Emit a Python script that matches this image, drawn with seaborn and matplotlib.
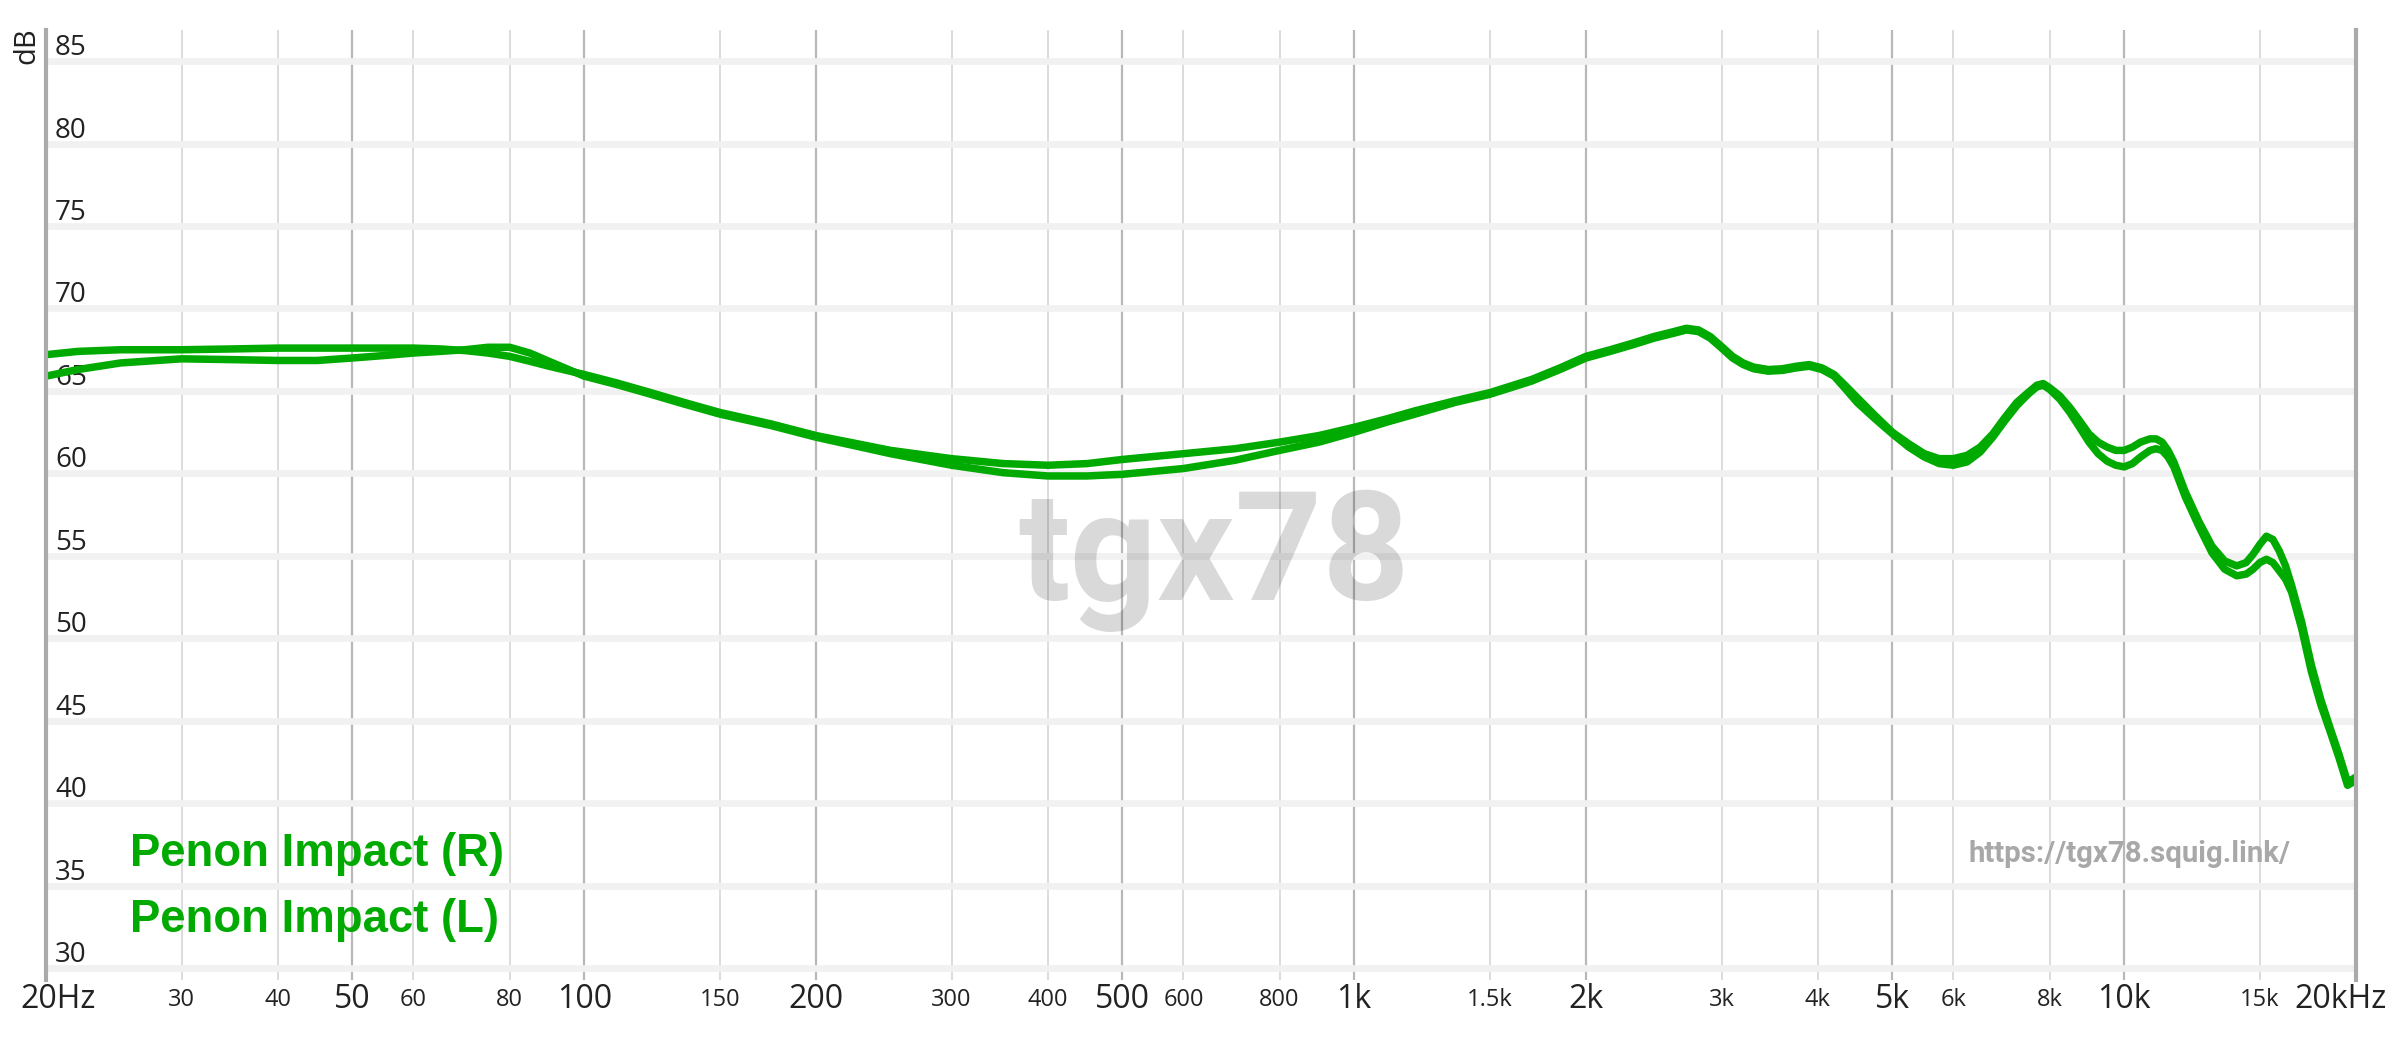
import matplotlib
matplotlib.use("Agg")
import matplotlib.pyplot as plt
import matplotlib.transforms as mtransforms
import pandas as pd
import seaborn as sns

freq_hz = [20, 22, 25, 30, 35, 40, 45, 50, 55, 60,
           65, 70, 75, 80, 85, 90, 100, 110, 120, 135,
           150, 175, 200, 250, 300, 350, 400, 450, 500, 600,
           700, 800, 900, 1000, 1100, 1200, 1350, 1500, 1700, 1850,
           2000, 2150, 2300, 2450, 2600, 2700, 2800, 2900, 3000, 3100,
           3200, 3300, 3450, 3600, 3750, 3900, 4050, 4200, 4350, 4500,
           4750, 5000, 5250, 5500, 5750, 6000, 6250, 6500, 6750, 7000,
           7250, 7500, 7700, 7850, 8000, 8250, 8500, 8750, 9000, 9250,
           9500, 9750, 10000, 10250, 10500, 10800, 11000, 11200, 11400, 11600,
           12000, 12500, 13000, 13500, 14000, 14400, 14700, 15000, 15300, 15600,
           15900, 16200, 16500, 17000, 17500, 18000, 18500, 19000, 19500, 20000]

spl_r = [67.2, 67.4, 67.5, 67.5, 67.55, 67.6, 67.6, 67.6, 67.6, 67.6,
         67.55, 67.45, 67.3, 67.1, 66.8, 66.5, 66.0, 65.5, 65.0, 64.3,
         63.7, 63.0, 62.3, 61.4, 60.9, 60.6, 60.5, 60.6, 60.85, 61.2,
         61.5, 61.9, 62.3, 62.8, 63.3, 63.8, 64.4, 64.9, 65.7, 66.4,
         67.1, 67.5, 67.9, 68.3, 68.6, 68.8, 68.7, 68.3, 67.7, 67.1,
         66.7, 66.45, 66.3, 66.35, 66.5, 66.6, 66.4, 66.0, 65.3, 64.6,
         63.5, 62.5, 61.8, 61.2, 60.9, 60.9, 61.1, 61.6, 62.4, 63.4,
         64.3, 64.9, 65.35, 65.45, 65.2, 64.7, 64.0, 63.2, 62.4, 61.9,
         61.6, 61.4, 61.4, 61.6, 61.9, 62.1, 62.1, 61.9, 61.4, 60.7,
         58.9, 57.1, 55.6, 54.7, 54.4, 54.6, 55.1, 55.7, 56.2, 56.0,
         55.3, 54.4, 53.2, 51.0, 48.4, 46.3, 44.6, 43.0, 41.3, 41.6]

spl_l = [65.9, 66.3, 66.7, 66.95, 66.9, 66.85, 66.85, 67.0, 67.15, 67.3,
         67.4, 67.5, 67.65, 67.65, 67.3, 66.8, 65.9, 65.4, 64.9, 64.2,
         63.6, 62.9, 62.2, 61.2, 60.5, 60.05, 59.85, 59.85, 59.95, 60.3,
         60.8, 61.4, 61.9, 62.5, 63.1, 63.6, 64.3, 64.8, 65.6, 66.3,
         67.0, 67.4, 67.8, 68.2, 68.5, 68.7, 68.6, 68.2, 67.6, 67.0,
         66.6, 66.35, 66.2, 66.25, 66.4, 66.5, 66.3, 65.9, 65.1, 64.3,
         63.3, 62.4, 61.6, 61.0, 60.6, 60.5, 60.7, 61.3, 62.2, 63.2,
         64.1, 64.8, 65.25, 65.35, 65.1, 64.5, 63.7, 62.8, 61.9, 61.2,
         60.75, 60.5, 60.4, 60.6, 61.0, 61.4, 61.5, 61.4, 61.0, 60.4,
         58.6, 56.8, 55.2, 54.2, 53.8, 53.9, 54.2, 54.6, 54.8, 54.6,
         54.1, 53.6, 52.8, 50.6, 48.0, 46.0, 44.4, 42.8, 41.1, 41.4]

major_ticks = [20, 50, 100, 200, 500, 1000, 2000, 5000, 10000, 20000]
major_labels = ["20Hz", "50", "100", "200", "500", "1k", "2k", "5k", "10k", "20kHz"]
minor_ticks = [30, 40, 60, 80, 150, 300, 400, 600, 800, 1500, 3000, 4000,
               6000, 8000, 15000]
minor_labels = ["30", "40", "60", "80", "150", "300", "400", "600", "800",
                "1.5k", "3k", "4k", "6k", "8k", "15k"]
db_ticks = [30, 35, 40, 45, 50, 55, 60, 65, 70, 75, 80, 85]

channels = ["Penon Impact (R)", "Penon Impact (L)"]
green = "#00aa00"

df = pd.DataFrame({
    "freq": freq_hz + freq_hz,
    "spl": spl_r + spl_l,
    "channel": [channels[0]] * len(freq_hz) + [channels[1]] * len(freq_hz),
})

sns.set_style("white")
plt.rcParams["font.family"] = ["Open Sans", "DejaVu Sans"]

fig = plt.figure(figsize=(12, 5.19), dpi=200)
ax = fig.add_axes([46 / 2400, 1 - 980 / 1038, 2310 / 2400, 950 / 1038])

sns.lineplot(data=df, x="freq", y="spl", hue="channel",
             palette={c: green for c in channels}, linewidth=2.7,
             estimator=None, legend=False, ax=ax, zorder=3)
for line in ax.lines:
    line.set_solid_capstyle("round")
    line.set_solid_joinstyle("round")

ax.set_xscale("log")
ax.set_xlim(20, 20000)
ax.set_ylim(29.3, 86.88)
ax.set_xlabel("")
ax.set_ylabel("")

ax.set_xticks(major_ticks, major_labels)
ax.set_xticks(minor_ticks, minor_labels, minor=True)
ax.set_yticks(db_ticks, [""] * len(db_ticks))
ax.tick_params(axis="both", which="both", length=0)
ax.tick_params(axis="x", which="major", labelsize=11.5, pad=7.2, colors="#222222")
ax.tick_params(axis="x", which="minor", labelsize=8.5, pad=7.2, colors="#222222")
for lab in ax.get_xticklabels(which="both"):
    lab.set_va("center")

# keep the end labels inside the figure
labs = ax.get_xticklabels()
shift_l = mtransforms.ScaledTranslation(12 / 200, 0, fig.dpi_scale_trans)
shift_r = mtransforms.ScaledTranslation(-15 / 200, 0, fig.dpi_scale_trans)
labs[0].set_transform(labs[0].get_transform() + shift_l)
labs[-1].set_transform(labs[-1].get_transform() + shift_r)

ax.set_axisbelow(True)
ax.yaxis.grid(True, color="#f1f1f1", linewidth=2.4)
ax.xaxis.grid(True, which="major", color="#b8b8b8", linewidth=0.8)
ax.xaxis.grid(True, which="minor", color="#d6d6d6", linewidth=0.6)

for side in ["top", "bottom"]:
    ax.spines[side].set_visible(False)
for side in ["left", "right"]:
    ax.spines[side].set_color("#aaaaaa")
    ax.spines[side].set_linewidth(1.5)
    ax.spines[side].set_zorder(4)

# dB labels inside the plot, just above each gridline
ylab_tf = mtransforms.blended_transform_factory(ax.transAxes, ax.transData)
up = mtransforms.ScaledTranslation(0, 6 / 200, fig.dpi_scale_trans)
for v in db_ticks:
    ax.text(9 / 2310, v, str(v), transform=ylab_tf + up, ha="left",
            va="baseline", fontsize=10, color="#222222", zorder=1)

fig.text(27 / 2400, 1 - 46 / 1038, "dB", rotation=90, ha="center",
         va="center", fontsize=10.5, color="#222222")

# watermark and site link
fig.text(1214 / 2400, 1 - 559 / 1038, "tgx78", ha="center", va="center",
         fontsize=55, fontweight="bold", family="Roboto", color="black",
         alpha=0.15, zorder=0.5)
fig.text(1969 / 2400, 1 - 854 / 1038, "https://tgx78.squig.link/", ha="left",
         va="center", fontsize=10.6, fontweight="bold", family="Roboto",
         color="#a8a8a8")

# channel labels
for i, name in enumerate(channels):
    fig.text(130 / 2400, 1 - (854 + 66 * i) / 1038, name, ha="left",
             va="center", fontsize=16.4, fontweight="bold",
             family="Liberation Sans", color=green)

fig.savefig("out.png", dpi=200, facecolor="white")
